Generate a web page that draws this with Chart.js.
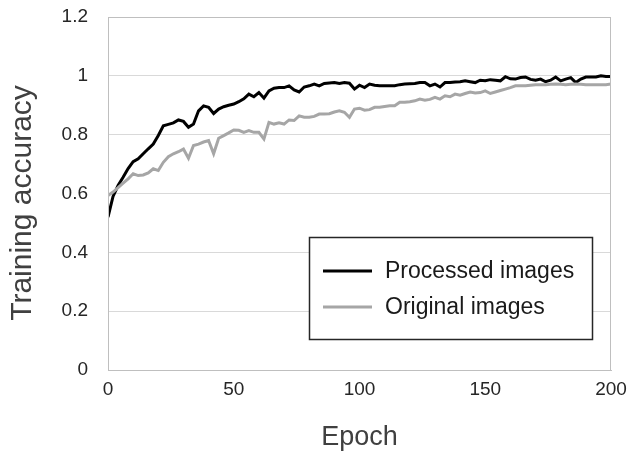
<!DOCTYPE html>
<html lang="en">
<head>
    <meta charset="UTF-8">
    <title>Training accuracy</title>
    <script src="https://cdn.jsdelivr.net/npm/chart.js"></script>
    <style>
        body {
            margin: 0;
            background-color: #ffffff;
        }
        #wrap {
            width: 630px;
            height: 458px;
        }
    </style>
</head>
<body>
    <div id="wrap"><canvas id="grafico"></canvas></div>

    <script>
        // epochs 0..200 every 2
        const epochs = [0,2,4,6,8,10,12,14,16,18,20,22,24,26,28,30,32,34,36,38,40,42,44,46,48,50,52,54,56,58,60,62,64,66,68,70,72,74,76,78,80,82,84,86,88,90,92,94,96,98,100,102,104,106,108,110,112,114,116,118,120,122,124,126,128,130,132,134,136,138,140,142,144,146,148,150,152,154,156,158,160,162,164,166,168,170,172,174,176,178,180,182,184,186,188,190,192,194,196,198,200];

        const processed = [0.52,0.59,0.627,0.655,0.685,0.708,0.718,0.735,0.752,0.768,0.797,0.83,0.835,0.84,0.85,0.845,0.825,0.836,0.881,0.898,0.893,0.872,0.887,0.895,0.9,0.904,0.912,0.922,0.938,0.929,0.943,0.924,0.949,0.958,0.96,0.96,0.966,0.952,0.945,0.962,0.966,0.972,0.966,0.974,0.976,0.977,0.974,0.977,0.975,0.955,0.968,0.96,0.972,0.968,0.966,0.966,0.966,0.966,0.97,0.972,0.973,0.974,0.977,0.977,0.966,0.972,0.962,0.977,0.977,0.979,0.98,0.983,0.98,0.977,0.985,0.983,0.987,0.985,0.983,0.997,0.99,0.989,0.994,0.996,0.988,0.985,0.989,0.98,0.985,0.996,0.983,0.989,0.994,0.977,0.989,0.996,0.996,0.996,1.0,0.998,0.998];

        const original = [0.593,0.605,0.62,0.635,0.65,0.667,0.661,0.663,0.67,0.684,0.678,0.706,0.725,0.735,0.742,0.751,0.72,0.763,0.768,0.775,0.78,0.735,0.788,0.797,0.806,0.816,0.815,0.808,0.814,0.808,0.808,0.785,0.842,0.836,0.84,0.836,0.85,0.848,0.864,0.859,0.859,0.862,0.87,0.87,0.871,0.877,0.881,0.876,0.859,0.887,0.89,0.883,0.885,0.893,0.893,0.896,0.898,0.898,0.91,0.91,0.912,0.915,0.921,0.917,0.92,0.927,0.921,0.932,0.929,0.938,0.934,0.94,0.945,0.942,0.943,0.949,0.94,0.945,0.95,0.955,0.96,0.966,0.966,0.966,0.968,0.97,0.97,0.97,0.971,0.972,0.971,0.97,0.971,0.972,0.971,0.97,0.97,0.97,0.97,0.97,0.972];

        const seriesNames = ["Processed images", "Original images"];
        const seriesColors = ["#000000", "#a6a6a6"];
        const xTicks = [0, 50, 100, 150, 200];
        const yTicks = ["0", "0.2", "0.4", "0.6", "0.8", "1", "1.2"];
        const yTitle = "Training accuracy";

        // box round the plot area
        const marco = {
            id: "marco",
            afterDraw(chart) {
                const a = chart.chartArea, ctx = chart.ctx;
                ctx.save();
                ctx.strokeStyle = "#bfbfbf";
                ctx.lineWidth = 1;
                ctx.strokeRect(a.left + 0.5, a.top + 0.5, a.right - a.left - 1, a.bottom - a.top);
                ctx.restore();
            }
        };

        // y title, sits a bit below the middle of the axis
        const tituloY = {
            id: "tituloY",
            afterDraw(chart) {
                const ctx = chart.ctx;
                ctx.save();
                ctx.translate(31, 203);
                ctx.rotate(-Math.PI / 2);
                ctx.font = "30px 'Liberation Sans', Arial, sans-serif";
                ctx.fillStyle = "#404040";
                ctx.textAlign = "center";
                ctx.textBaseline = "alphabetic";
                ctx.fillText(yTitle, 0, 0);
                ctx.restore();
            }
        };

        // legend in a box inside the plot
        const leyenda = {
            id: "leyenda",
            afterDraw(chart) {
                const ctx = chart.ctx;
                ctx.save();
                ctx.fillStyle = "#ffffff";
                ctx.fillRect(309, 237, 283, 102);
                ctx.strokeStyle = "#262626";
                ctx.lineWidth = 1.5;
                ctx.strokeRect(309.5, 237.5, 283, 102);
                ctx.font = "23px 'Liberation Sans', Arial, sans-serif";
                ctx.textBaseline = "middle";
                seriesNames.forEach((name, i) => {
                    const y = 271 + i * 36;
                    ctx.strokeStyle = seriesColors[i];
                    ctx.lineWidth = 3;
                    ctx.beginPath();
                    ctx.moveTo(323, y);
                    ctx.lineTo(372, y);
                    ctx.stroke();
                    ctx.fillStyle = "#1a1a1a";
                    ctx.fillText(name, 385, y + 1);
                });
                ctx.restore();
            }
        };

        const ctx = document.getElementById("grafico").getContext("2d");
        new Chart(ctx, {
            type: "line",
            data: {
                datasets: [
                    {
                        label: seriesNames[1],
                        data: epochs.map((e, i) => ({ x: e, y: original[i] })),
                        borderColor: seriesColors[1],
                        borderWidth: 3,
                        pointRadius: 0,
                        tension: 0
                    },
                    {
                        label: seriesNames[0],
                        data: epochs.map((e, i) => ({ x: e, y: processed[i] })),
                        borderColor: seriesColors[0],
                        borderWidth: 3,
                        pointRadius: 0,
                        tension: 0
                    }
                ]
            },
            options: {
                responsive: true,
                maintainAspectRatio: false,
                animation: false,
                layout: { padding: { top: 5, right: 5, left: 0, bottom: 0 } },
                plugins: {
                    legend: { display: false },
                    tooltip: { enabled: false }
                },
                scales: {
                    x: {
                        type: "linear",
                        min: 0,
                        max: 200,
                        afterBuildTicks: s => { s.ticks = xTicks.map(v => ({ value: v })); },
                        afterFit: s => { s.height = 88; s.paddingRight = 19; },
                        grid: { display: false, drawTicks: false },
                        border: { color: "#bfbfbf" },
                        ticks: {
                            color: "#262626",
                            padding: 8,
                            maxRotation: 0,
                            font: { family: "'Liberation Sans', Arial", size: 19 }
                        },
                        title: {
                            display: true,
                            text: "Epoch",
                            color: "#404040",
                            padding: { top: 0, bottom: 4 },
                            font: { family: "'Liberation Sans', Arial", size: 27 }
                        }
                    },
                    y: {
                        min: 0,
                        max: 1.2,
                        afterBuildTicks: s => { s.ticks = yTicks.map(v => ({ value: Number(v) })); },
                        afterFit: s => { s.width = 108; s.paddingTop = 17; },
                        grid: { color: "#d9d9d9", drawTicks: false },
                        border: { color: "#bfbfbf" },
                        ticks: {
                            color: "#262626",
                            padding: 20,
                            callback: (v, i) => yTicks[i],
                            font: { family: "'Liberation Sans', Arial", size: 19 }
                        },
                        title: { display: false }
                    }
                }
            },
            plugins: [marco, tituloY, leyenda]
        });
    </script>
</body>
</html>
